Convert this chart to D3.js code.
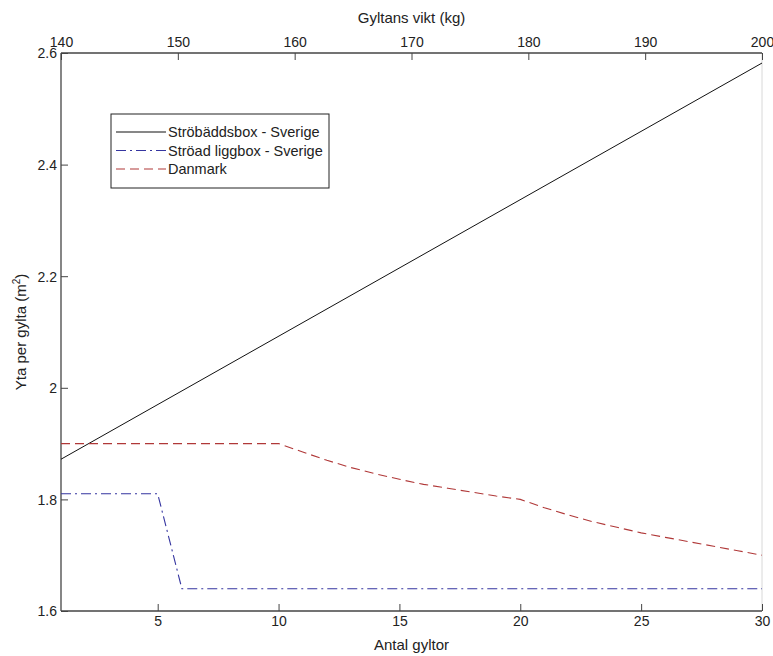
<!DOCTYPE html>
<html><head><meta charset="utf-8">
<script src="https://cdn.jsdelivr.net/npm/d3@7"></script>
<style>body{margin:0;background:#fff}svg{display:block}text{font-family:"Liberation Sans",Arial,sans-serif;fill:#222}</style>
</head><body>
<script>
const antal = [1,2,3,4,5,6,7,8,9,10,11,12,13,14,15,16,17,18,19,20,21,22,23,24,25,26,27,28,29,30];
const stroBadd = [[1,1.872],[30,2.582]];
const stroadLigg = [1.81,1.81,1.81,1.81,1.81,1.64,1.64,1.64,1.64,1.64,1.64,1.64,1.64,1.64,1.64,1.64,1.64,1.64,1.64,1.64,1.64,1.64,1.64,1.64,1.64,1.64,1.64,1.64,1.64,1.64];
const danmark = [1.9,1.9,1.9,1.9,1.9,1.9,1.9,1.9,1.9,1.9,1.885,1.87,1.857,1.846,1.836,1.827,1.82,1.813,1.806,1.80,1.785,1.772,1.76,1.75,1.74,1.732,1.724,1.716,1.708,1.70];
const xTicks = [5,10,15,20,25,30];
const yTicks = [1.6,1.8,2,2.2,2.4,2.6];
const topTicks = [140,150,160,170,180,190,200];
const seriesNames = ["Ströbäddsbox - Sverige","Ströad liggbox - Sverige","Danmark"];

const W=773,H=656, L=61,R=762,T=53,B=611;
const svg=d3.select("body").append("svg").attr("width",W).attr("height",H);
const x=d3.scaleLinear().domain([1,30]).range([L,R]);
const xTop=d3.scaleLinear().domain([140,200]).range([L,R]);
const y=d3.scaleLinear().domain([1.6,2.6]).range([B,T]);
const axCol="#444";
const blue="#3535a0", red="#b03838";

// right light border
svg.append("line").attr("x1",R).attr("x2",R).attr("y1",T).attr("y2",B).attr("stroke","#d8d8d8");

const gB=svg.append("g").attr("transform",`translate(0,${B})`)
  .call(d3.axisBottom(x).tickValues(xTicks).tickSize(-7).tickPadding(5).tickFormat(d3.format("d")));
const gL=svg.append("g").attr("transform",`translate(${L},0)`)
  .call(d3.axisLeft(y).tickValues(yTicks).tickSize(-7).tickPadding(4).tickFormat(d=>String(d)));
const gT=svg.append("g").attr("transform",`translate(0,${T})`)
  .call(d3.axisTop(xTop).tickValues(topTicks).tickSize(-7).tickPadding(6).tickFormat(d3.format("d")));
[gB,gL,gT].forEach(g=>{
  g.select(".domain").attr("stroke",axCol).attr("stroke-width",1.3);
  g.selectAll(".tick line").attr("stroke",axCol);
  g.selectAll(".tick text").attr("font-size",14).attr("fill","#222").attr("font-family","Liberation Sans, Arial, sans-serif");
});
gB.select(".domain").attr("d",`M${L},0H${R}`);
gT.select(".domain").attr("d",`M${L},0H${R}`);
gL.select(".domain").attr("d",`M0,${B}V${T}`);
gT.selectAll(".tick text").attr("dy","0");
gL.selectAll(".tick text").attr("dy","0.35em");

const line=d3.line().x(d=>x(d[0])).y(d=>y(d[1]));
svg.append("path").datum(stroBadd).attr("d",line).attr("fill","none").attr("stroke","#111").attr("stroke-width",1);
svg.append("path").datum(antal.map((a,i)=>[a,stroadLigg[i]])).attr("d",line).attr("fill","none")
  .attr("stroke",blue).attr("stroke-width",1.1).attr("stroke-dasharray","10,4,2,4");
svg.append("path").datum(antal.map((a,i)=>[a,danmark[i]])).attr("d",line).attr("fill","none")
  .attr("stroke",red).attr("stroke-width",1.1).attr("stroke-dasharray","9,5");

// labels
svg.append("text").attr("x",(L+R)/2).attr("y",23).attr("text-anchor","middle").attr("font-size",15).text("Gyltans vikt (kg)");
svg.append("text").attr("x",(L+R)/2).attr("y",650).attr("text-anchor","middle").attr("font-size",15).text("Antal gyltor");
const yl=svg.append("text").attr("transform",`translate(26,${(T+B)/2}) rotate(-90)`).attr("text-anchor","middle").attr("font-size",15);
yl.append("tspan").text("Yta per gylta (m");
yl.append("tspan").attr("dy",-6).attr("font-size",10).text("2");
yl.append("tspan").attr("dy",6).text(")");

// legend
const lg=svg.append("g");
lg.append("rect").attr("x",111).attr("y",114).attr("width",218).attr("height",74).attr("fill","#fff").attr("stroke","#222").attr("stroke-width",1);
const styles=[{c:"#111",d:null},{c:blue,d:"10,4,2,4"},{c:red,d:"9,5"}];
seriesNames.forEach((n,i)=>{
  const yy=132+i*18.5;
  const l=lg.append("line").attr("x1",116).attr("x2",166).attr("y1",yy).attr("y2",yy).attr("stroke",styles[i].c).attr("stroke-width",1.1);
  if(styles[i].d) l.attr("stroke-dasharray",styles[i].d);
  lg.append("text").attr("x",168).attr("y",yy).attr("dy","0.35em").attr("font-size",14.5).text(n);
});
</script>
</body></html>
